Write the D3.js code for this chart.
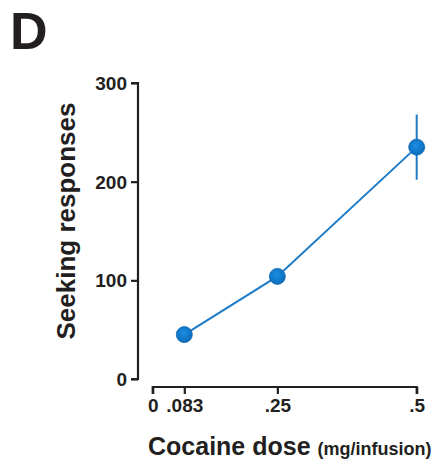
<!DOCTYPE html>
<html>
<head>
	<meta charset="utf-8">
	<style>
		body { margin: 0; background: #fff; }
		text { font-family: "Liberation Sans", Arial, sans-serif; font-weight: bold; fill: #231f20; }
	</style>
</head>
<body>
<div id="chartContainer"></div>
<script src="https://cdn.jsdelivr.net/npm/d3@7"></script>
<script type="text/javascript">

// Data
var doses = [0.083, 0.25, 0.5];            // mg/infusion
var responses = [45, 104, 235];            // mean seeking responses
var sem = [6, 7, 33];                      // error bars (small ones hidden by markers)
var xTicks = [0, 0.083, 0.25, 0.5];
var xTickLabels = ["0", ".083", ".25", ".5"];
var yTicks = [0, 100, 200, 300];

var width = 440, height = 466;
var blue = "#1d7bc7";

var svg = d3.select("#chartContainer").append("svg")
	.attr("width", width).attr("height", height);

// x axis starts a little right of the y axis (offset axis), so 0 sits apart from the doses
var x = d3.scaleLinear().domain([0, 0.083, 0.5]).range([152.7, 184.3, 416.7]);
var y = d3.scaleLinear().domain([0, 300]).range([379, 83]);

var axisX = 138, axisY = 387;

// panel letter
svg.append("text").attr("x", 10).attr("y", 49)
	.style("font-size", "52px").text("D");

// y axis
var yAxis = svg.append("g")
	.attr("transform", "translate(" + axisX + ",0)")
	.call(d3.axisLeft(y).tickValues(yTicks).tickSize(7).tickPadding(4).tickFormat(d3.format("d")));
yAxis.selectAll("path, line").attr("stroke", "#231f20").attr("stroke-width", 2.2);
yAxis.select(".domain").attr("d", "M-7," + y(300) + "H0V" + y(0) + "H-7");
yAxis.selectAll("text").style("font-size", "19px").attr("dy", "0.35em")
	.style("font-family", "'Liberation Sans', Arial, sans-serif").style("font-weight", "bold").attr("fill", "#231f20");

// x axis
var xAxis = svg.append("g")
	.attr("transform", "translate(0," + axisY + ")")
	.call(d3.axisBottom(x).tickValues(xTicks).tickSize(7).tickPadding(5)
		.tickFormat(function (d, i) { return xTickLabels[i]; }));
xAxis.selectAll("path, line").attr("stroke", "#231f20").attr("stroke-width", 2.2);
xAxis.select(".domain").attr("d", "M" + x(0) + ",7V0H" + x(0.5) + "V7");
xAxis.selectAll("text").style("font-size", "19px")
	.style("font-family", "'Liberation Sans', Arial, sans-serif").style("font-weight", "bold").attr("fill", "#231f20");

// axis titles
svg.append("text")
	.attr("transform", "translate(75," + 221 + ") rotate(-90)")
	.attr("text-anchor", "middle")
	.style("font-size", "26px")
	.text("Seeking responses");

var xt = svg.append("text").attr("x", 148).attr("y", 455).style("font-size", "25px");
xt.append("tspan").text("Cocaine dose ");
xt.append("tspan").style("font-size", "18px").text("(mg/infusion)");

// marker gradient
var grad = svg.append("defs").append("radialGradient").attr("id", "dot")
	.attr("cx", "45%").attr("cy", "40%").attr("r", "60%");
grad.append("stop").attr("offset", "0%").attr("stop-color", "#1b8ee0");
grad.append("stop").attr("offset", "100%").attr("stop-color", "#0a6cbd");

var pts = doses.map(function (d, i) { return {dose: d, mean: responses[i], err: sem[i]}; });

// error bars
svg.selectAll(".err").data(pts).enter().append("line")
	.attr("class", "err")
	.attr("x1", function (d) { return x(d.dose); })
	.attr("x2", function (d) { return x(d.dose); })
	.attr("y1", function (d) { return y(d.mean + d.err); })
	.attr("y2", function (d) { return y(d.mean - d.err); })
	.attr("stroke", blue).attr("stroke-width", 2);

// connecting line
svg.append("path").datum(pts)
	.attr("fill", "none").attr("stroke", blue).attr("stroke-width", 2)
	.attr("d", d3.line().x(function (d) { return x(d.dose); }).y(function (d) { return y(d.mean); }));

// markers
svg.selectAll(".dot").data(pts).enter().append("circle")
	.attr("class", "dot")
	.attr("cx", function (d) { return x(d.dose); })
	.attr("cy", function (d) { return y(d.mean); })
	.attr("r", 8)
	.attr("fill", "url(#dot)")
	.attr("stroke", "#1667ad").attr("stroke-width", 0.8);

</script>
</body>
</html>
